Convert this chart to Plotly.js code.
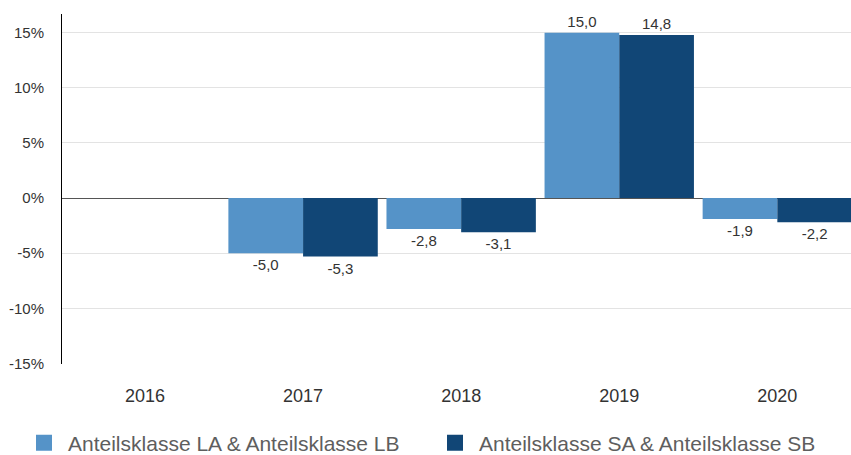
<!DOCTYPE html>
<html><head><meta charset="utf-8">
<script src="https://cdn.plot.ly/plotly-3.0.1.min.js"></script>
<style>html,body{margin:0;padding:0;background:#fff}#chart{width:851px;height:455px}</style>
</head><body><div id="chart"></div>
<script>
const years = ['2016','2017','2018','2019','2020'];
const seriesLA = [null, -5.0, -2.8, 15.0, -1.9];
const seriesSA = [null, -5.3, -3.1, 14.8, -2.2];
const nameLA = 'Anteilsklasse LA & Anteilsklasse LB';
const nameSA = 'Anteilsklasse SA & Anteilsklasse SB';
const yTicks = [-15, -10, -5, 0, 5, 10, 15];
const yTickText = ['-15%', '-10%', '-5%', '0%', '5%', '10%', '15%'];
const colLA = '#5593c8', colSA = '#114676';
const fmt = v => v == null ? '' : v.toFixed(1).replace('.', ',');
const font = 'Liberation Sans, Arial, sans-serif';

const traces = [
  {type:'bar', x:years, y:seriesLA, name:nameLA, marker:{color:colLA}, text:seriesLA.map(fmt),
   textposition:'outside', textfont:{size:15,color:'#333'}, cliponaxis:false, showlegend:false, hoverinfo:'y'},
  {type:'bar', x:years, y:seriesSA, name:nameSA, marker:{color:colSA}, text:seriesSA.map(fmt),
   textposition:'outside', textfont:{size:15,color:'#333'}, cliponaxis:false, showlegend:false, hoverinfo:'y'},
  {type:'scatter', mode:'markers', x:[null], y:[null], name:nameLA, marker:{symbol:'square', size:20, color:colLA}, legend:'legend'},
  {type:'scatter', mode:'markers', x:[null], y:[null], name:nameSA, marker:{symbol:'square', size:20, color:colSA}, legend:'legend2'}
];

const legendCommon = {xref:'container', yref:'container', y:0.026, xanchor:'left', yanchor:'middle',
  orientation:'h', itemwidth:38, font:{size:21, color:'#5e5e5e'}, bgcolor:'rgba(0,0,0,0)'};

const layout = {
  width:851, height:455,
  margin:{l:62, r:0, t:14, b:91},
  paper_bgcolor:'#fff', plot_bgcolor:'#fff',
  font:{family:font, color:'#333', size:15},
  barmode:'group', bargap:0.055, bargroupgap:0,
  xaxis:{type:'category', range:[-0.525, 4.466], showgrid:false, zeroline:false, showline:false, automargin:false,
         ticks:'', tickfont:{size:18, color:'#333'}, ticklabelstandoff:19, fixedrange:true},
  yaxis:{range:[-15.05, 16.7], tickvals:yTicks, ticktext:yTickText, showgrid:true, gridcolor:'#e3e3e3', gridwidth:1,
         zeroline:true, zerolinecolor:'#555', zerolinewidth:1, showline:true, linecolor:'#000', linewidth:1, automargin:false,
         ticks:'', tickfont:{size:15, color:'#333'}, ticklabelstandoff:14, fixedrange:true},
  legend:Object.assign({}, legendCommon, {x:20/851}),
  legend2:Object.assign({}, legendCommon, {x:431/851}),
  showlegend:true
};
Plotly.newPlot('chart', traces, layout, {displayModeBar:false, staticPlot:true});
</script></body></html>
